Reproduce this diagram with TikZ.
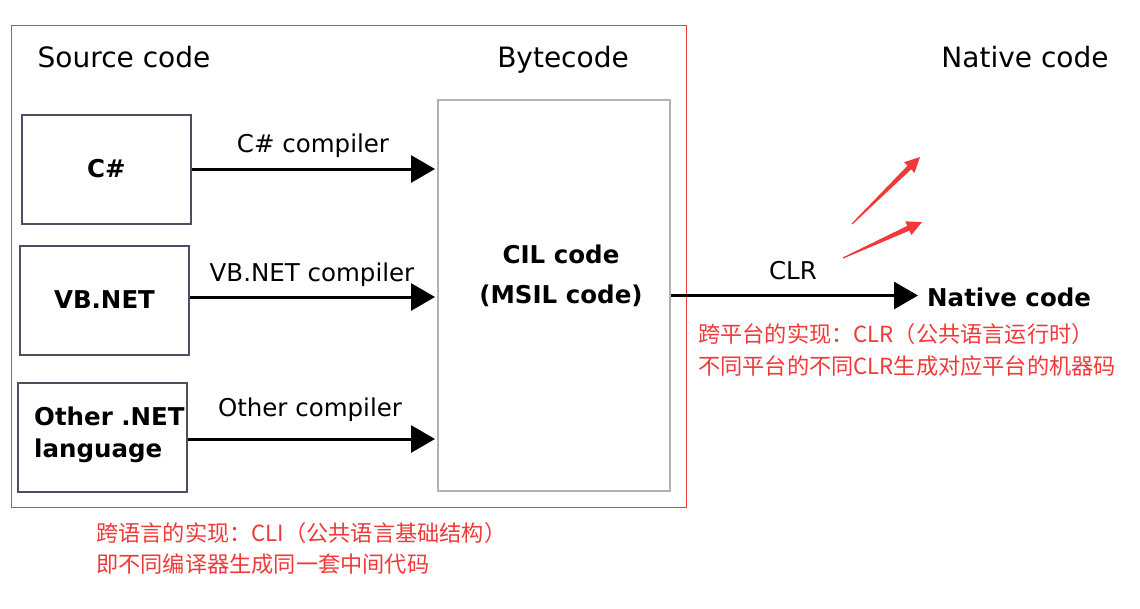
\documentclass[tikz,border=0pt]{standalone}
\usepackage{fontspec}
\setmainfont{DejaVu Sans}
\newfontfamily\cjk{Noto Sans CJK SC}
\usetikzlibrary{arrows.meta,calc}
\definecolor{annot}{RGB}{240,58,58}
\definecolor{boxdark}{RGB}{78,78,98}
\definecolor{boxlight}{RGB}{178,178,188}
\tikzset{
  hdr/.style={inner sep=0pt, font=\fontsize{28}{34}\selectfont},
  lbl/.style={inner sep=0pt, font=\fontsize{24.5}{30}\selectfont},
  boldtxt/.style={inner sep=0pt, font=\fontsize{24.5}{32}\selectfont\bfseries},
  srcbox/.style={draw=boxdark, line width=2pt, minimum width=169pt, minimum height=109pt, inner sep=0pt, font=\fontsize{24.5}{32}\selectfont\bfseries},
  bigbox/.style={draw=boxlight, line width=2pt, minimum width=232pt, minimum height=391pt, inner sep=0pt},
  flow/.style={line width=3pt, -{Triangle[length=24pt,width=27pt]}},
  note/.style={inner sep=0pt, text=annot, font=\fontsize{22.2}{32}\selectfont\cjk},
}
\newcommand\brusharrow[2]{%
  \path coordinate (hb) at ($(#2)!15pt!(#1)$);
  \fill[annot] ($(#1)!0.6pt!90:(#2)$) -- ($(hb)!2.6pt!-90:(#1)$) -- ($(hb)!7.5pt!-90:(#1)$) -- (#2)
    -- ($(hb)!7.5pt!90:(#1)$) -- ($(hb)!2.6pt!90:(#1)$) -- ($(#1)!0.6pt!-90:(#2)$) -- cycle;}
\begin{document}
\begin{tikzpicture}[x=1pt,y=-1pt]
\useasboundingbox (0,0) rectangle (1140,608);
\fill[white] (0,0) rectangle (1140,608);
% red frame
\draw[annot, line width=1pt] (11,25) rectangle (686,507);
% headers
\node[hdr, anchor=base] (hsrc) at (124,67) {Source code};
\node[hdr, anchor=base] (hbyte) at (563,67) {Bytecode};
\node[hdr, anchor=base] (hnat) at (1025,67) {Native code};
% source boxes
\node[srcbox] (cs) at (106.5,169) {C\#};
\node[srcbox] (vb) at (104.5,300) {VB.NET};
\node[srcbox] (oth) at (102.5,437) {};
\node[boldtxt, align=left, anchor=north west] (othtxt) at (34,406.5) {Other .NET\\language};
% CIL box
\node[bigbox] (cil) at (554,295.5) {};
\node[boldtxt, align=center, anchor=north, font=\fontsize{24.5}{40}\selectfont\bfseries] (ciltxt) at (561,244.5) {CIL code\\(MSIL code)};
% compiler arrows
\draw[flow] (cs.east) -- ([xshift=-2pt]cs.east -| cil.west);
\draw[flow] ([yshift=3pt]vb.east) -- ([xshift=-2pt,yshift=3pt]vb.east -| cil.west);
\draw[flow] ([yshift=-2pt]oth.east) -- ([xshift=-2pt,yshift=-2pt]oth.east -| cil.west);
\node[lbl, anchor=base] (lcs) at (313,152) {C\# compiler};
\node[lbl, anchor=base] (lvb) at (312,281) {VB.NET compiler};
\node[lbl, anchor=base] (loth) at (310,416) {Other compiler};
% CLR
\node[boldtxt, anchor=base west] (nat) at (927,306) {Native code};
\draw[flow, shorten >=9pt] (cil.east) -- (cil.east -| nat.west);
\node[lbl, anchor=base] (lclr) at (793,279) {CLR};
% red annotation arrows
\coordinate (a1t) at (852,224);
\coordinate (a1h) at (920,157);
\coordinate (a2t) at (843,258);
\coordinate (a2h) at (922,222);
\brusharrow{a1t}{a1h}
\brusharrow{a2t}{a2h}
% red notes
\node[note, anchor=base west] (n1) at (698,342) {跨平台的实现：CLR（公共语言运行时）};
\node[note, anchor=base west] (n2) at (698,374) {不同平台的不同CLR生成对应平台的机器码};
\node[note, anchor=base west] (n3) at (96,541) {跨语言的实现：CLI（公共语言基础结构）};
\node[note, anchor=base west] (n4) at (96,572) {即不同编译器生成同一套中间代码};
\end{tikzpicture}
\end{document}
